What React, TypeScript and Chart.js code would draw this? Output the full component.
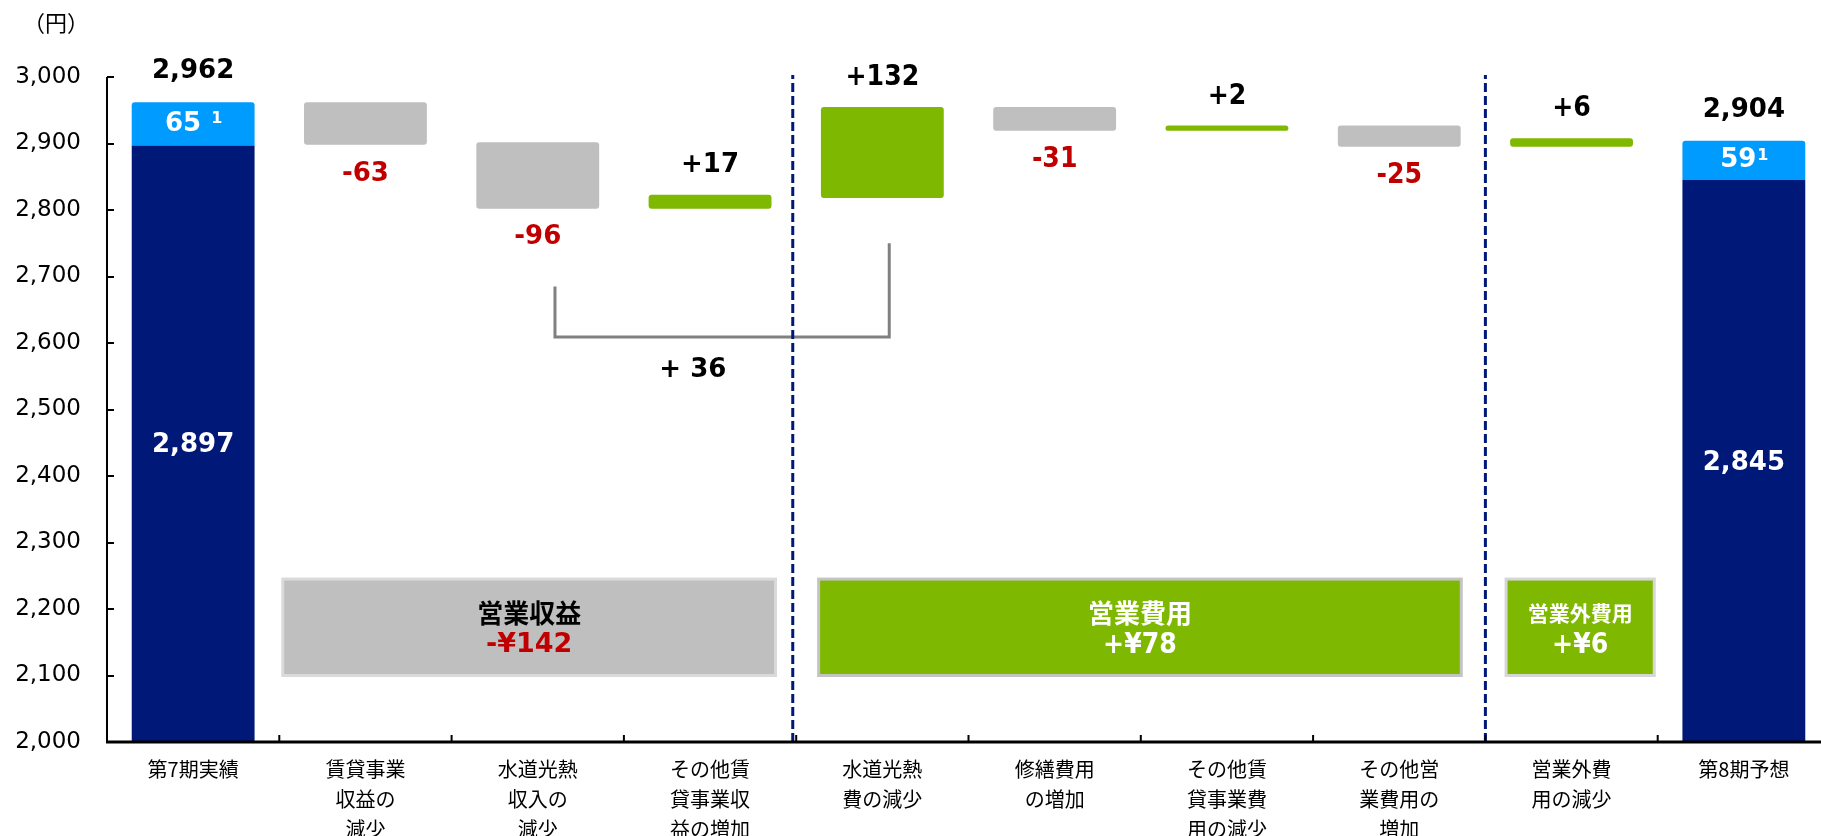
import React, { useEffect, useRef } from 'react';
import { Chart, registerables } from 'chart.js';

Chart.register(...registerables);

// ---------- data ----------
const CATEGORIES: string[][] = [
  ['第7期実績'],
  ['賃貸事業', '収益の', '減少'],
  ['水道光熱', '収入の', '減少'],
  ['その他賃', '貸事業収', '益の増加'],
  ['水道光熱', '費の減少'],
  ['修繕費用', 'の増加'],
  ['その他賃', '貸事業費', '用の減少'],
  ['その他営', '業費用の', '増加'],
  ['営業外費', '用の減少'],
  ['第8期予想'],
];

const PERIOD_BASE: (number | null)[] = [2897, null, null, null, null, null, null, null, null, 2845];
const PERIOD_EXTRA: (number | null)[] = [65, null, null, null, null, null, null, null, null, 59];
const PERIOD_BASE_LABELS = ['2,897', '', '', '', '', '', '', '', '', '2,845'];
const PERIOD_EXTRA_LABELS = ['65 ', '', '', '', '', '', '', '', '', '59'];
const NOTE_MARK = '1';

const DECREASE_RANGES: ([number, number] | null)[] = [
  null, [2898, 2962], [2802, 2902], null, null, [2919, 2955], null, [2895, 2927], null, null,
];
const INCREASE_RANGES: ([number, number] | null)[] = [
  null, null, null, [2802, 2823], [2818, 2955], null, [2919, 2927], null, [2895, 2908], null,
];
const CHANGE_LABELS = ['2,962', '-63', '-96', '+17', '+132', '-31', '+2', '-25', '+6', '2,904'];

const Y_MIN = 2000;
const Y_MAX = 3000;
const Y_STEP = 100;
const Y_TICK_LABELS = ['2,000', '2,100', '2,200', '2,300', '2,400', '2,500', '2,600', '2,700', '2,800', '2,900', '3,000'];
const UNIT_LABEL = '（円）';

const GROUP_NAMES = ['営業収益', '営業費用', '営業外費用'];
const GROUP_TOTALS = ['-¥142', '+¥78', '+¥6'];
const GROUP_SPANS: [number, number][] = [[0.52, 3.38], [3.63, 7.36], [7.62, 8.48]];
const GROUP_RANGE: [number, number] = [2100, 2245];

const BRACKET_POINTS = [
  { x: 2.1, y: 2685 },
  { x: 2.1, y: 2609 },
  { x: 4.04, y: 2609 },
  { x: 4.04, y: 2750 },
];
const BRACKET_LABEL = '+ 36';
const BRACKET_LABEL_AT = { x: 2.9, y: 2559 };

const DIVIDERS = [3.48, 7.5];

// ---------- styles ----------
const NAVY = '#001978';
const LIGHT_BLUE = '#009BFF';
const GRAY = '#BFBFBF';
const GREEN = '#7FB800';
const RED = '#C00000';
const BRACKET_GRAY = '#808080';
const VERDANA = '"DejaVu Sans", Verdana, sans-serif';
const CONDENSED = '"DejaVu Sans Condensed", "DejaVu Sans", sans-serif';
const JP = '"Noto Sans CJK JP", "Noto Sans", sans-serif';

const GROUP_FILL = [GRAY, GREEN, GREEN];
const GROUP_BORDER = ['#DADADA', '#C4C4C4', '#D6D6D6'];
const GROUP_NAME_COLOR = ['#000000', '#FFFFFF', '#FFFFFF'];
const GROUP_TOTAL_COLOR = [RED, '#FFFFFF', '#FFFFFF'];
const GROUP_NAME_FONT = [`bold 26px ${JP}`, `bold 26px ${JP}`, `bold 21px ${JP}`];
const GROUP_TOTAL_FONT = [`bold 27px ${VERDANA}`, `bold 28px ${CONDENSED}`, `bold 28px ${CONDENSED}`];
const CONDENSED_LABELS = new Set([4, 5, 6, 7, 8]);

function points<T>(arr: (T | null)[], map: (v: T, i: number) => any) {
  const out: any[] = [];
  arr.forEach((v, i) => {
    if (v !== null && v !== undefined) out.push({ x: i, y: map(v, i) });
  });
  return out;
}

const groupBoxesPlugin = {
  id: 'groupBoxes',
  beforeDatasetsDraw(chart: any) {
    const { ctx, scales } = chart;
    const x = scales.x;
    const y = scales.y;
    const yTop = y.getPixelForValue(GROUP_RANGE[1]);
    const yBot = y.getPixelForValue(GROUP_RANGE[0]);
    GROUP_SPANS.forEach(([a, b], i) => {
      const x0 = x.getPixelForValue(a);
      const x1 = x.getPixelForValue(b);
      ctx.save();
      ctx.fillStyle = GROUP_FILL[i];
      ctx.fillRect(x0, yTop, x1 - x0, yBot - yTop);
      ctx.lineWidth = 3;
      ctx.strokeStyle = GROUP_BORDER[i];
      ctx.strokeRect(x0, yTop, x1 - x0, yBot - yTop);
      const cx = (x0 + x1) / 2;
      const cy = (yTop + yBot) / 2;
      ctx.textAlign = 'center';
      ctx.textBaseline = 'middle';
      ctx.font = GROUP_NAME_FONT[i];
      ctx.fillStyle = GROUP_NAME_COLOR[i];
      ctx.fillText(GROUP_NAMES[i], cx, cy - 14);
      ctx.font = GROUP_TOTAL_FONT[i];
      ctx.fillStyle = GROUP_TOTAL_COLOR[i];
      ctx.fillText(GROUP_TOTALS[i], cx, cy + 18);
      ctx.restore();
    });
  },
};

const overlayPlugin = {
  id: 'overlay',
  afterDatasetsDraw(chart: any) {
    const { ctx, scales, chartArea } = chart;
    const x = scales.x;
    const y = scales.y;
    ctx.save();

    // axes
    ctx.strokeStyle = '#000';
    ctx.lineWidth = 2;
    ctx.beginPath();
    ctx.moveTo(chartArea.left, chartArea.top);
    ctx.lineTo(chartArea.left, chartArea.bottom);
    for (let v = Y_MIN; v <= Y_MAX; v += Y_STEP) {
      const py = Math.round(y.getPixelForValue(v));
      ctx.moveTo(chartArea.left, py);
      ctx.lineTo(chartArea.left + 7, py);
    }
    ctx.stroke();
    ctx.lineWidth = 2;
    ctx.beginPath();
    for (let i = 0; i < CATEGORIES.length; i++) {
      const px = x.getPixelForValue(i + 0.5);
      ctx.moveTo(px, chartArea.bottom);
      ctx.lineTo(px, chartArea.bottom - 7);
    }
    ctx.stroke();
    ctx.lineWidth = 3;
    ctx.beginPath();
    ctx.moveTo(chartArea.left - 1, chartArea.bottom);
    ctx.lineTo(chartArea.right, chartArea.bottom);
    ctx.stroke();

    ctx.textAlign = 'center';
    ctx.textBaseline = 'middle';

    // change / total labels
    CHANGE_LABELS.forEach((label, i) => {
      const px = x.getPixelForValue(i);
      const dec = DECREASE_RANGES[i];
      const inc = INCREASE_RANGES[i];
      ctx.font = CONDENSED_LABELS.has(i) ? `bold 28px ${CONDENSED}` : `bold 26px ${VERDANA}`;
      if (dec) {
        ctx.fillStyle = RED;
        ctx.fillText(label, px, y.getPixelForValue(dec[0]) + 29);
      } else if (inc) {
        ctx.fillStyle = '#000';
        ctx.fillText(label, px, y.getPixelForValue(inc[1]) - 29);
      } else if (PERIOD_BASE[i] !== null) {
        ctx.fillStyle = '#000';
        const top = (PERIOD_BASE[i] as number) + (PERIOD_EXTRA[i] as number);
        ctx.fillText(label, px, y.getPixelForValue(top) - 31);
      }
    });

    // labels inside the period bars
    PERIOD_BASE.forEach((base, i) => {
      if (base === null) return;
      const px = x.getPixelForValue(i);
      ctx.fillStyle = '#fff';
      ctx.textAlign = 'center';
      ctx.font = `bold 26px ${VERDANA}`;
      ctx.fillText(PERIOD_BASE_LABELS[i], px, y.getPixelForValue((Y_MIN + base) / 2) + 2);
      const extra = PERIOD_EXTRA[i] as number;
      const cy = y.getPixelForValue(base + extra / 2);
      const mainFont = `bold 26px ${VERDANA}`;
      const supFont = `bold 16px ${VERDANA}`;
      ctx.font = mainFont;
      const w1 = ctx.measureText(PERIOD_EXTRA_LABELS[i]).width;
      ctx.font = supFont;
      const w2 = ctx.measureText(NOTE_MARK).width;
      const start = px - (w1 + w2) / 2;
      ctx.textAlign = 'left';
      ctx.font = mainFont;
      ctx.fillText(PERIOD_EXTRA_LABELS[i], start, cy);
      ctx.font = supFont;
      ctx.fillText(NOTE_MARK, start + w1 + 1, cy - 5);
      ctx.textAlign = 'center';
    });

    // bracket label
    ctx.fillStyle = '#000';
    ctx.font = `bold 26px ${VERDANA}`;
    ctx.fillText(BRACKET_LABEL, x.getPixelForValue(BRACKET_LABEL_AT.x), y.getPixelForValue(BRACKET_LABEL_AT.y));

    // unit label
    ctx.font = `22px ${JP}`;
    ctx.fillText(UNIT_LABEL, 56, 23);

    ctx.restore();
  },
};

export default function App() {
  const ref = useRef<HTMLCanvasElement>(null);

  useEffect(() => {
    const canvas = ref.current;
    if (!canvas) return;

    const barCommon = {
      type: 'bar' as const,
      barPercentage: 0.713,
      categoryPercentage: 1,
      borderWidth: 0,
      order: 5,
    };

    const datasets: any[] = [
      {
        ...barCommon,
        label: 'base',
        data: points(PERIOD_BASE, (v) => [Y_MIN, v]),
        backgroundColor: NAVY,
        borderSkipped: false,
        borderRadius: 0,
      },
      {
        ...barCommon,
        label: 'extra',
        data: points(PERIOD_EXTRA, (v, i) => [PERIOD_BASE[i] as number, (PERIOD_BASE[i] as number) + v]),
        backgroundColor: LIGHT_BLUE,
        borderSkipped: false,
        borderRadius: { topLeft: 3, topRight: 3, bottomLeft: 0, bottomRight: 0 },
      },
      {
        ...barCommon,
        label: 'decrease',
        data: points(DECREASE_RANGES, (v) => v),
        backgroundColor: GRAY,
        borderSkipped: false,
        borderRadius: 3,
      },
      {
        ...barCommon,
        label: 'increase',
        data: points(INCREASE_RANGES, (v) => v),
        backgroundColor: GREEN,
        borderSkipped: false,
        borderRadius: 3,
      },
      {
        type: 'line',
        label: 'bracket',
        data: BRACKET_POINTS,
        borderColor: BRACKET_GRAY,
        borderWidth: 3,
        pointRadius: 0,
        fill: false,
        tension: 0,
        borderJoinStyle: 'miter',
        order: 2,
      },
      ...DIVIDERS.map((d) => ({
        type: 'line',
        label: 'divider',
        data: [
          { x: d, y: Y_MIN },
          { x: d, y: Y_MAX + 3 },
        ],
        borderColor: NAVY,
        borderWidth: 3,
        borderDash: [9, 4],
        pointRadius: 0,
        fill: false,
        clip: false,
        order: 1,
      })),
    ];

    const chart = new Chart(canvas, {
      type: 'bar',
      data: { datasets },
      options: {
        responsive: false,
        animation: false,
        devicePixelRatio: 1,
        layout: { padding: { top: 77, left: 0, right: 0, bottom: 0 } },
        plugins: {
          legend: { display: false },
          tooltip: { enabled: false },
        },
        scales: {
          x: {
            type: 'linear',
            stacked: true,
            offset: false,
            min: -0.5,
            max: CATEGORIES.length - 0.5,
            afterBuildTicks: (scale: any) => {
              scale.ticks = CATEGORIES.map((_, i) => ({ value: i }));
            },
            afterFit: (scale: any) => {
              scale.height = 94;
            },
            ticks: {
              autoSkip: false,
              maxRotation: 0,
              minRotation: 0,
              padding: 13,
              color: '#000',
              font: { family: JP, size: 20, lineHeight: 1.48 },
              callback: (_v: any, i: number) => CATEGORIES[i],
            },
            grid: { display: false, drawTicks: false, offset: false },
            border: { display: false },
          },
          y: {
            type: 'linear',
            stacked: false,
            min: Y_MIN,
            max: Y_MAX,
            afterFit: (scale: any) => {
              scale.width = 107;
            },
            ticks: {
              stepSize: Y_STEP,
              padding: 26,
              color: '#000',
              font: { family: VERDANA, size: 23 },
              callback: (_v: any, i: number) => Y_TICK_LABELS[i],
            },
            grid: { display: false, drawTicks: false },
            border: { display: false },
          },
        },
      } as any,
      plugins: [groupBoxesPlugin, overlayPlugin],
    });

    return () => chart.destroy();
  }, []);

  return (
    <div
      style={{
        position: 'absolute',
        left: 0,
        top: 0,
        width: 1821,
        height: 836,
        overflow: 'hidden',
        background: '#fff',
      }}
    >
      <canvas ref={ref} width={1830} height={836} style={{ display: 'block', width: 1830, height: 836 }} />
    </div>
  );
}
